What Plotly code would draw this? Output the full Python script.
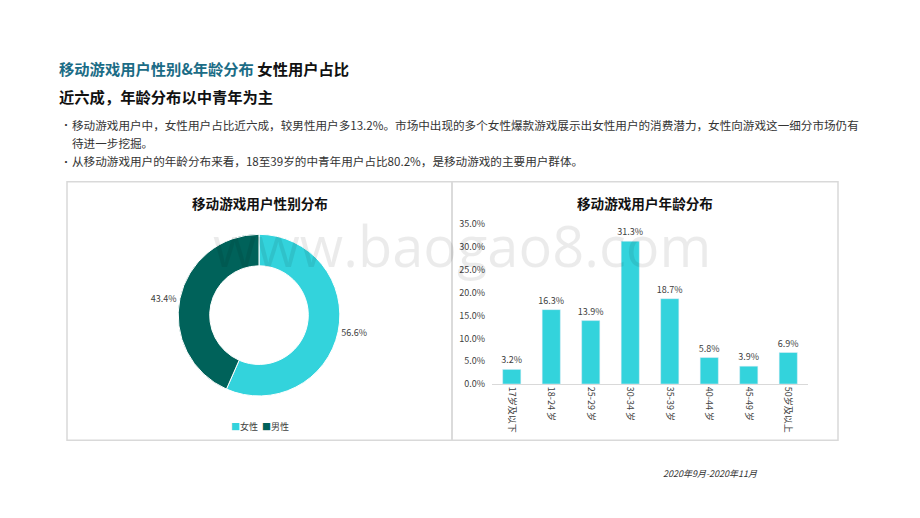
import plotly.graph_objects as go

# ---- data ----
gender_labels = ["女性", "男性"]
gender_values = [56.6, 43.4]
gender_colors = ["#33d3dc", "#00625a"]

age_groups = ["17岁及以下", "18-24 岁", "25-29 岁", "30-34 岁", "35-39 岁", "40-44 岁", "45-49 岁", "50岁及以上"]
age_values = [0.032, 0.163, 0.139, 0.313, 0.187, 0.058, 0.039, 0.069]
age_ticks = [0, 0.05, 0.10, 0.15, 0.20, 0.25, 0.30, 0.35]

W, H = 920, 518
CJK = "Noto Sans CJK SC"

def px(x):
    return x / W

def py(y):
    y = (y - 6.2) / 0.977
    return 1 - y / H

fig = go.Figure()

fig.add_trace(go.Pie(
    labels=gender_labels, values=gender_values, hole=0.61,
    sort=False, direction="clockwise", rotation=0,
    marker=dict(colors=gender_colors, line=dict(color="white", width=1)),
    textposition="outside", texttemplate="%{percent:.1%}",
    textfont=dict(family=CJK, size=9, color="#404040"),
    domain=dict(x=[px(178), px(340)], y=[py(396), py(234)]),
    showlegend=False, hoverinfo="label+percent",
))

fig.add_trace(go.Bar(
    x=age_groups, y=age_values, marker_color="#33d3dc", width=0.46,
    text=age_values, texttemplate="%{y:.1%}", textposition="outside",
    constraintext="none",
    textfont=dict(family=CJK, size=9, color="#404040"),
    cliponaxis=False, showlegend=False, xaxis="x", yaxis="y",
))

fig.update_layout(
    width=W, height=H, margin=dict(l=0, r=0, t=0, b=0),
    paper_bgcolor="white", plot_bgcolor="rgba(0,0,0,0)",
    font=dict(family=CJK, color="#333333"),
    xaxis=dict(domain=[px(492), px(808)], tickangle=90, showgrid=False,
               showline=True, linecolor="#d9d9d9", linewidth=1, ticks="",
               tickfont=dict(family=CJK, size=9, color="#404040"), fixedrange=True),
    yaxis=dict(domain=[py(384), py(224)], range=[0, 0.35], tickvals=age_ticks,
               tickformat=".1%", showgrid=False, zeroline=False, showline=False,
               tickfont=dict(family=CJK, size=9, color="#404040"), ticklabelstandoff=6,
               fixedrange=True),
    showlegend=False,
    bargap=0.54,
)

shapes = [
    dict(type="rect", xref="paper", yref="paper", x0=px(67), x1=px(452), y0=py(440.5), y1=py(181.3),
         line=dict(color="#d9d9d9", width=1.5)),
    dict(type="rect", xref="paper", yref="paper", x0=px(452), x1=px(838), y0=py(440.5), y1=py(181.3),
         line=dict(color="#d9d9d9", width=1.5)),
]
fig.update_layout(shapes=shapes)

ann = []
def text(x, y, s, size, color="#333333", xanchor="left", bold=False, italic=False, family=CJK):
    if bold:
        s = "<b>" + s + "</b>"
    if italic:
        s = "<i>" + s + "</i>"
    ann.append(dict(x=px(x), y=py(y), xref="paper", yref="paper", text=s, showarrow=False,
                    xanchor=xanchor, yanchor="middle", font=dict(family=family, size=size, color=color)))

text(462, 245, "www.baogao8.com", 56, "rgba(0,0,0,0.08)", xanchor="center", family="Open Sans")
text(57, 67, "<span style='color:#1b6c86'>移动游戏用户性别&年龄分布</span> 女性用户占比", 15.3, "#111111", bold=True)
text(57, 95.5, "近六成，年龄分布以中青年为主", 15.3, "#111111", bold=True)
text(59, 124, "•", 10, "#333333")
text(70, 124, "移动游戏用户中，女性用户占比近六成，较男性用户多13.2%。市场中出现的多个女性爆款游戏展示出女性用户的消费潜力，女性向游戏这一细分市场仍有", 11.6, "#333333")
text(70, 142, "待进一步挖掘。", 11.6, "#333333")
text(59, 161, "•", 10, "#333333")
text(70, 161, "从移动游戏用户的年龄分布来看，18至39岁的中青年用户占比80.2%，是移动游戏的主要用户群体。", 11.6, "#333333")
text(260, 203, "移动游戏用户性别分布", 13.6, "#111111", xanchor="center", bold=True)
text(645, 203, "移动游戏用户年龄分布", 13.6, "#111111", xanchor="center", bold=True)
legend_html = "  ".join(
    f"<span style='color:{c}'>■</span>{l}" for l, c in zip(gender_labels, gender_colors)
)
text(260, 426.5, legend_html, 9, "#404040", xanchor="center")
text(710, 474, "2020年9月-2020年11月", 9, "#333333", xanchor="center", italic=True)

fig.update_layout(annotations=ann)
fig.write_html("out.html", config={"displayModeBar": False},
               post_script="document.body.style.margin='0';document.body.style.padding='0';")
